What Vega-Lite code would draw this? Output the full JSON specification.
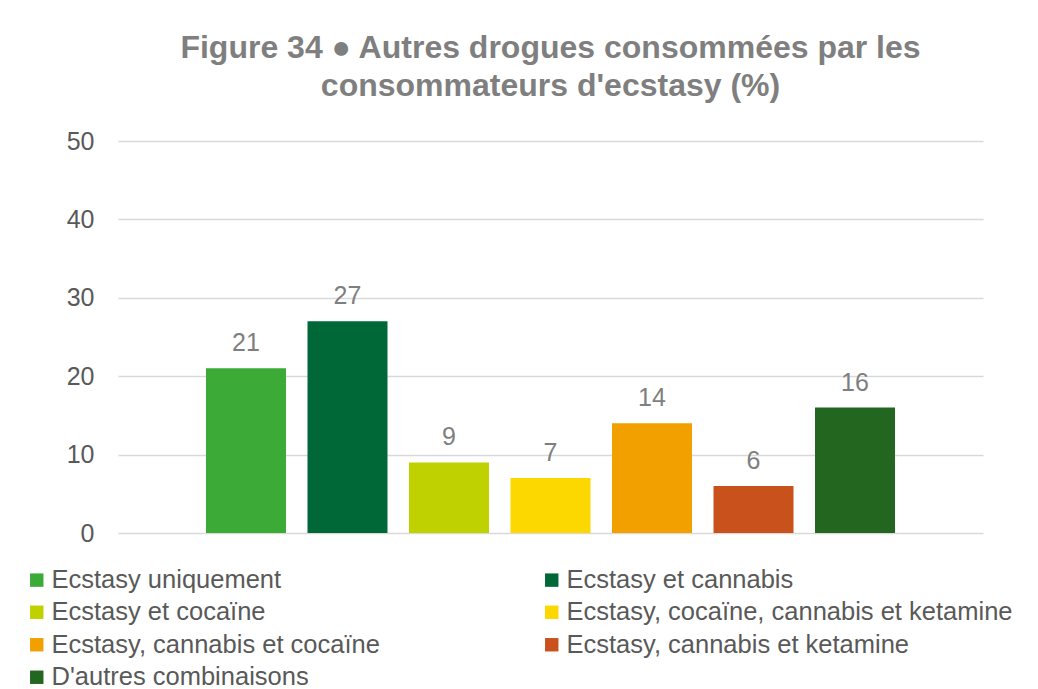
{
  "$schema": "https://vega.github.io/schema/vega-lite/v6.json",
  "width": 865,
  "height": 392,
  "autosize": {"type": "none"},
  "padding": {"left": 118, "top": 141, "right": 55, "bottom": 156},
  "background": "white",
  "title": {
    "text": ["Figure 34 \u25cf  Autres drogues consommées par les", "consommateurs d'ecstasy (%)"],
    "font": "Liberation Sans",
    "fontSize": 32,
    "fontWeight": "bold",
    "color": "#7f7f7f",
    "lineHeight": 38,
    "anchor": "middle",
    "offset": 26
  },
  "data": {
    "values": [
      {"cat": "Ecstasy uniquement", "val": 21},
      {"cat": "Ecstasy et cannabis", "val": 27},
      {"cat": "Ecstasy et cocaïne", "val": 9},
      {"cat": "Ecstasy, cocaïne, cannabis et ketamine", "val": 7},
      {"cat": "Ecstasy, cannabis et cocaïne", "val": 14},
      {"cat": "Ecstasy, cannabis et ketamine", "val": 6},
      {"cat": "D'autres combinaisons", "val": 16}
    ]
  },
  "encoding": {
    "x": {
      "field": "cat",
      "type": "nominal",
      "sort": null,
      "axis": null,
      "scale": {"paddingInner": 0.212, "paddingOuter": 0.867}
    },
    "y": {
      "field": "val",
      "type": "quantitative",
      "scale": {"domain": [0, 50]},
      "axis": {
        "title": null,
        "values": [0, 10, 20, 30, 40, 50],
        "domain": false,
        "ticks": false,
        "grid": true,
        "gridColor": "#d9d9d9",
        "gridWidth": 1.5,
        "labelFont": "Liberation Sans",
        "labelFontSize": 25,
        "labelColor": "#595959",
        "labelPadding": 24
      }
    }
  },
  "layer": [
    {
      "mark": {"type": "bar"},
      "encoding": {
        "color": {
          "field": "cat",
          "type": "nominal",
          "sort": null,
          "scale": {
            "domain": ["Ecstasy uniquement", "Ecstasy et cannabis", "Ecstasy et cocaïne", "Ecstasy, cocaïne, cannabis et ketamine", "Ecstasy, cannabis et cocaïne", "Ecstasy, cannabis et ketamine", "D'autres combinaisons"],
            "range": ["#3caa36", "#006837", "#bfd200", "#fcd700", "#f29f00", "#c9511b", "#23661f"]
          },
          "legend": {
            "title": null,
            "orient": "none",
            "legendX": -94,
            "legendY": 426,
            "direction": "horizontal",
            "columns": 2,
            "gridAlign": "all",
            "columnPadding": 41,
            "rowPadding": 5.5,
            "symbolType": "square",
            "symbolSize": 180,
            "symbolStrokeWidth": 0,
            "labelFont": "Liberation Sans",
            "labelFontSize": 25.5,
            "labelColor": "#595959",
            "labelOffset": 2,
            "labelLimit": 700
          }
        }
      }
    },
    {
      "mark": {"type": "text", "baseline": "bottom", "dy": -12, "font": "Liberation Sans", "fontSize": 25, "color": "#7f7f7f"},
      "encoding": {
        "text": {"field": "val", "type": "quantitative"}
      }
    }
  ],
  "config": {
    "view": {"stroke": null}
  }
}
